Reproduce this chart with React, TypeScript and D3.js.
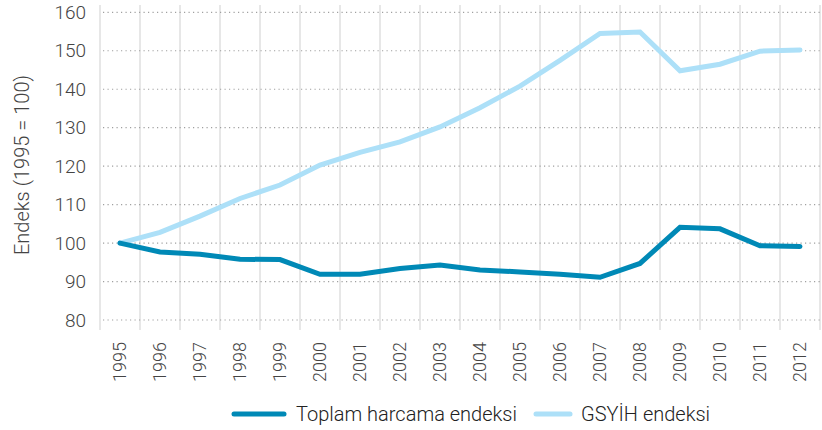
import React from 'react';
import * as d3 from 'd3';

const years = [
  '1995', '1996', '1997', '1998', '1999', '2000', '2001', '2002', '2003',
  '2004', '2005', '2006', '2007', '2008', '2009', '2010', '2011', '2012',
];
const toplamHarcama = [
  100, 97.7, 97.1, 95.8, 95.7, 91.9, 91.9, 93.4, 94.3,
  93.0, 92.5, 91.9, 91.1, 94.7, 104.1, 103.7, 99.3, 99.1,
];
const gsyih = [
  100, 102.8, 107.0, 111.6, 115.1, 120.3, 123.6, 126.3, 130.2,
  135.2, 140.8, 147.5, 154.5, 154.9, 144.8, 146.5, 149.9, 150.2,
];
const yTicks = [80, 90, 100, 110, 120, 130, 140, 150, 160];

const seriesList = [
  { name: 'Toplam harcama endeksi', values: toplamHarcama, color: '#0089b6' },
  { name: 'GSYİH endeksi', values: gsyih, color: '#ade0f8' },
];

const W = 822;
const H = 430;
const FONT = 'Roboto, "Noto Sans", sans-serif';

export default function App() {
  const x = d3.scaleBand<string>().domain(years).range([100, 820]);
  const y = d3.scaleLinear().domain([80, 160]).range([320, 12.3]);
  const cx = (d: string) => (x(d) ?? 0) + x.bandwidth() / 2;

  const line = d3
    .line<number>()
    .x((_, i) => cx(years[i]))
    .y((v) => y(v));

  // band edges for the vertical grid
  const edges = years.map((d) => x(d) ?? 0).concat([x.range()[1]]);

  return (
    <svg
      width={W}
      height={H}
      style={{ position: 'absolute', left: 0, top: 0, background: '#fff' }}
      fontFamily={FONT}
    >
      {/* vertical grid */}
      {edges.map((e, i) => (
        <line key={'v' + i} x1={e} x2={e} y1={5} y2={330} stroke="#cfcfcf" strokeWidth={1} />
      ))}

      {/* horizontal dotted grid */}
      {yTicks.map((t) => (
        <line
          key={'h' + t}
          x1={103}
          x2={820}
          y1={y(t)}
          y2={y(t)}
          stroke="#a0a0a0"
          strokeWidth={1.2}
          strokeDasharray="1.2,3.3"
        />
      ))}

      {/* y tick labels */}
      {yTicks.map((t) => (
        <text
          key={'yt' + t}
          x={86}
          y={y(t)}
          dy="0.35em"
          textAnchor="end"
          fontSize={19}
          fontWeight={300}
          fill="#444"
        >
          {t}
        </text>
      ))}

      {/* y axis title */}
      <text
        transform="translate(29,165) rotate(-90)"
        textAnchor="middle"
        fontSize={20}
        fontWeight={300}
        fill="#444"
      >
        Endeks (1995 = 100)
      </text>

      {/* x tick labels */}
      {years.map((d) => (
        <text
          key={'xt' + d}
          transform={`translate(${cx(d)},342) rotate(-90)`}
          dy="0.35em"
          textAnchor="end"
          fontSize={18}
          fontWeight={300}
          fill="#444"
        >
          {d}
        </text>
      ))}

      {/* series lines */}
      {seriesList
        .slice()
        .reverse()
        .map((s) => (
          <path
            key={s.name}
            d={line(s.values) ?? ''}
            fill="none"
            stroke={s.color}
            strokeWidth={5}
            strokeLinejoin="miter"
            strokeLinecap="round"
          />
        ))}

      {/* legend */}
      <g>
        <line x1={234} x2={284} y1={414} y2={414} stroke={seriesList[0].color} strokeWidth={5} strokeLinecap="round" />
        <text x={296} y={414} dy="0.35em" fontSize={20} fontWeight={300} fill="#222">
          {seriesList[0].name}
        </text>
        <line x1={536} x2={570} y1={414} y2={414} stroke={seriesList[1].color} strokeWidth={5} strokeLinecap="round" />
        <text x={581} y={414} dy="0.35em" fontSize={20} fontWeight={300} fill="#222">
          {seriesList[1].name}
        </text>
      </g>
    </svg>
  );
}
